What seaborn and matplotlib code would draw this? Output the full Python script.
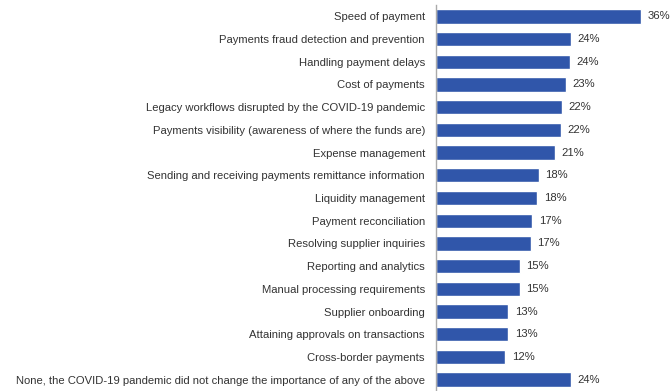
import matplotlib
matplotlib.use("Agg")
import matplotlib.pyplot as plt
import seaborn as sns
import pandas as pd

categories = [
    "Speed of payment",
    "Payments fraud detection and prevention",
    "Handling payment delays",
    "Cost of payments",
    "Legacy workflows disrupted by the COVID-19 pandemic",
    "Payments visibility (awareness of where the funds are)",
    "Expense management",
    "Sending and receiving payments remittance information",
    "Liquidity management",
    "Payment reconciliation",
    "Resolving supplier inquiries",
    "Reporting and analytics",
    "Manual processing requirements",
    "Supplier onboarding",
    "Attaining approvals on transactions",
    "Cross-border payments",
    "None, the COVID-19 pandemic did not change the importance of any of the above",
]
values = [36.0, 23.7, 23.5, 22.9, 22.1, 21.9, 20.9, 18.1, 17.8, 16.9, 16.7,
          14.7, 14.7, 12.7, 12.7, 12.2, 23.7]
value_labels = ["36%", "24%", "24%", "23%", "22%", "22%", "21%", "18%", "18%",
                "17%", "17%", "15%", "15%", "13%", "13%", "12%", "24%"]

df = pd.DataFrame({"category": categories, "value": values})

sns.set_theme(style="white")
plt.rcParams["font.family"] = ["Liberation Sans", "DejaVu Sans"]

fig = plt.figure(figsize=(6.71, 3.91), dpi=100)
ax = fig.add_axes([436 / 671, 0.0, (671 - 436) / 671, 386 / 391])

sns.barplot(data=df, x="value", y="category", color="#3056AA", width=0.63,
            saturation=1, ax=ax, orient="h")

for i, (v, lab) in enumerate(zip(values, value_labels)):
    ax.text(v + 1.15, i, lab, va="center", ha="left", fontsize=8.1, color="#333333")

ax.set_xlim(0, 41.3)
ax.set_ylim(16.5, -0.5)
ax.set_xlabel("")
ax.set_ylabel("")
ax.set_xticks([])
for s in ["top", "right", "bottom"]:
    ax.spines[s].set_visible(False)
ax.spines["left"].set_color("#AAAAAA")
ax.spines["left"].set_linewidth(1.0)
ax.tick_params(axis="y", length=0, pad=8, labelsize=8.1, labelcolor="#333333")

fig.savefig("out.png", dpi=100, facecolor="white")
